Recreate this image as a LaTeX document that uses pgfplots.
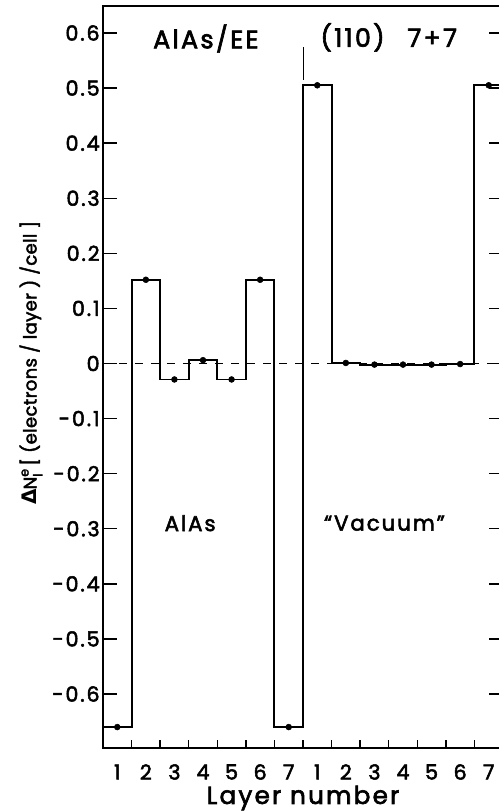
\documentclass[border=0pt]{standalone}
\usepackage{pgfplots}
\pgfplotsset{compat=1.18}
\usepackage{fontspec}
\setmainfont{Poppins}[LetterSpace=9, BoldFont={Poppins}, BoldFeatures={FakeBold=2.5}]
\newfontfamily\dv{DejaVu Sans}
\begin{document}
\begin{tikzpicture}[x=1pt,y=1pt]
\useasboundingbox (-77.25,-47.25) rectangle (297,561);
\begin{axis}[
  at={(0,0)}, anchor=south west,
  scale only axis,
  width=300pt, height=556.5pt,
  xmin=0.5, xmax=14.5, ymin=-0.698, ymax=0.649,
  axis line style={line width=1.3pt},
  tick style={line width=1.1pt, black},
  tick align=inside,
  xtick={1,...,14},
  xticklabels={1,2,3,4,5,6,7,1,2,3,4,5,6,7},
  major x tick style={draw=none},
  minor xtick={1.5,2.5,...,13.5},
  minor tick length=6pt,
  xtick pos=bottom,
  ytick={-0.6,-0.5,-0.4,-0.3,-0.2,-0.1,0,0.1,0.2,0.3,0.4,0.5,0.6},
  yticklabels={-0.6,-0.5,-0.4,-0.3,-0.2,-0.1,0,0.1,0.2,0.3,0.4,0.5,0.6},
  ytick pos=both,
  major tick length=10.5pt,
  ticklabel style={font=\fontsize{15.5}{17}\selectfont\bfseries},
  xticklabel style={anchor=center, yshift=-18pt},
  yticklabel style={xshift=1pt},
  clip=false,
]
% zero reference line
\addplot[black, line width=0.9pt, dash pattern=on 6pt off 6pt, forget plot] coordinates {(0.5,0) (14.5,0)};
% step profile
\addplot[black, line width=1.4pt, const plot mark mid, mark=none] coordinates {
 (0.5,-0.66) (1,-0.66) (2,0.152) (3,-0.029) (4,0.006) (5,-0.029) (6,0.152) (7,-0.66)
 (8,0.505) (9,0.001) (10,-0.002) (11,-0.002) (12,-0.002) (13,-0.001) (14,0.505) (14.5,0.505)
};
% layer values
\addplot[only marks, mark=*, mark size=2.2pt, black] coordinates {
 (1,-0.66) (2,0.152) (3,-0.029) (4,0.006) (5,-0.029) (6,0.152) (7,-0.66)
 (8,0.505) (9,0.001) (10,-0.002) (11,-0.002) (12,-0.002) (13,-0.001) (14,0.505)
};
\draw[black, line width=0.6pt] (axis cs:7.5,0.515) -- (axis cs:7.5,0.575);
\node[font=\fontsize{19}{21}\selectfont\bfseries] at (axis cs:4.1,0.590) {AlAs/EE};
\node[font=\fontsize{19}{21}\selectfont\bfseries] at (axis cs:10.5,0.592) {(110)\hspace{0.9em}7+7};
\node[font=\fontsize{16}{18}\selectfont\bfseries] at (axis cs:3.55,-0.290) {AlAs};
\node[font=\fontsize{16}{18}\selectfont\bfseries] at (axis cs:10.35,-0.290) {``Vacuum''};
\node[font=\fontsize{18.5}{20}\selectfont\bfseries] at ([yshift=-37.5pt]rel axis cs:0.5,0) {Layer number};
\node[rotate=90, font=\fontsize{13.5}{15}\selectfont\bfseries\addfontfeatures{LetterSpace=2}] at ([xshift=-54pt]rel axis cs:0,0.519)
  {{\dv\bfseries\fontsize{15}{15}\selectfont Δ}N\rlap{\raisebox{0.8ex}{\fontsize{9.5}{10}\selectfont\bfseries e}}\raisebox{-0.6ex}{\fontsize{9.5}{10}\selectfont\bfseries l}\hspace{6pt}[ (electrons / layer ) /cell ]};
\end{axis}
\end{tikzpicture}
\end{document}
